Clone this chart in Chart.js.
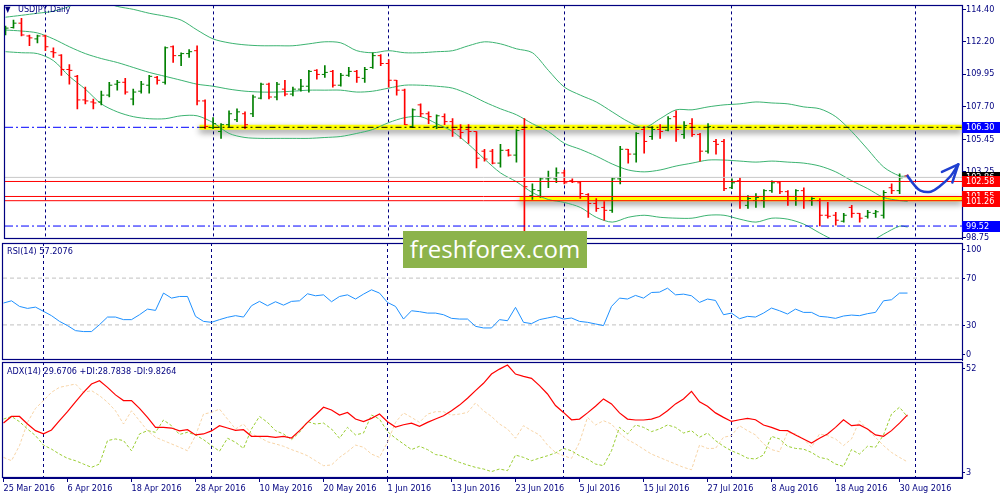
<!DOCTYPE html>
<html>
<head>
<meta charset="utf-8">
<title>USDJPY Daily</title>
<script src="https://cdn.jsdelivr.net/npm/chart.js@4.4.1/dist/chart.umd.min.js"></script>
<style>
  html, body { margin: 0; padding: 0; background: #fff; }
  #wrap { position: relative; width: 1000px; height: 500px; overflow: hidden; }
  #wrap canvas { position: absolute; left: 0; top: 0; }
  .cap { position: absolute; font: 9px/11px Tahoma, 'DejaVu Sans Condensed', 'Liberation Sans', Arial, sans-serif; color: #000080; white-space: nowrap; }
  #brand { position: absolute; left: 403px; top: 231px; width: 184px; height: 37px; background: #8cb34b; color: #fff;
           font: 24px/36px 'Open Sans', sans-serif; text-align: center; }
</style>
</head>
<body>
<div id="wrap">
  <canvas id="mainChart" width="1000" height="500"></canvas>
  <canvas id="rsiChart" width="1000" height="500"></canvas>
  <canvas id="adxChart" width="1000" height="500"></canvas>
  <div class="cap" style="left:5px;top:4px;font-size:8px">▼</div>
  <div class="cap" style="left:18px;top:4px">USDJPY,Daily</div>
  <div class="cap" style="left:7px;top:246px">RSI(14) 57.2076</div>
  <div class="cap" style="left:7px;top:366px">ADX(14) 29.6706 +DI:28.7838 -DI:9.8264</div>
  <div id="brand">freshforex.com</div>
</div>
<script>
// daily bars, 25 Mar 2016 .. 31 Aug 2016
const opens = [112.84,113.15,113.45,112.57,112.37,112.57,111.49,111.25,110.27,109.80,
  108.18,108.04,108.04,108.51,109.26,109.39,108.24,108.78,109.19,109.73,
  109.39,111.83,111.22,111.36,111.56,108.11,106.28,106.01,106.48,106.82,
  107.23,107.23,108.30,109.26,108.38,108.92,108.58,108.92,109.12,110.21,
  109.93,110.14,109.19,109.87,110.14,109.66,110.41,111.22,110.68,109.53,
  108.85,106.35,107.84,107.23,106.35,107.03,106.69,106.15,106.15,106.01,
  104.66,104.66,103.84,104.72,104.39,106.15,101.61,101.95,102.76,102.76,
  103.17,102.63,102.49,101.68,101.07,100.80,100.60,102.76,104.79,104.46,
  106.15,105.67,106.15,106.10,107.03,105.81,106.55,105.81,104.66,105.33,
  105.33,102.15,102.63,100.94,101.27,101.27,101.95,102.49,101.88,101.55,
  101.95,101.27,101.27,100.26,100.26,99.85,100.80,100.39,100.19,100.39,
  100.26,102.15,101.95,102.96];
const highs = [113.25,113.66,113.79,112.64,112.64,112.64,111.76,111.29,110.61,109.87,
  109.06,108.24,108.78,109.39,109.53,109.66,108.92,109.46,109.87,109.80,
  111.83,111.90,111.42,111.63,111.90,108.18,106.96,106.55,107.43,107.57,
  107.36,108.51,109.33,109.33,109.39,109.53,109.06,109.60,110.21,110.27,
  110.54,110.21,110.00,110.41,110.21,110.41,111.42,111.29,110.95,109.53,
  108.92,107.57,107.91,107.36,107.16,107.23,106.89,106.48,106.48,106.01,
  104.79,104.79,105.13,104.79,106.15,106.89,102.42,102.83,103.30,103.51,
  103.37,102.76,102.56,101.75,101.41,101.20,102.83,105.00,104.79,105.94,
  106.35,106.35,106.48,107.03,107.43,106.69,106.89,105.88,106.55,105.47,
  105.47,102.76,102.83,101.61,101.75,102.02,102.63,102.56,101.95,102.02,
  102.15,101.48,101.41,101.14,100.46,100.39,100.94,100.39,100.60,100.60,
  101.95,102.42,103.10,103.03];
const lows = [112.64,113.11,112.57,111.90,112.10,111.56,111.09,109.87,109.26,107.57,
  107.91,107.57,107.84,108.38,108.85,108.58,107.84,108.65,108.65,109.26,
  109.26,110.75,110.54,111.09,107.84,106.21,106.21,105.54,106.35,106.69,
  106.21,107.03,108.24,108.24,108.18,108.45,108.45,108.78,108.72,109.60,
  109.73,109.06,109.12,109.80,109.39,109.39,110.34,110.54,109.06,108.51,
  106.48,106.28,107.03,106.55,106.21,106.48,105.67,105.54,105.20,103.51,
  103.98,103.78,103.57,104.32,103.91,99.10,101.34,101.48,102.15,102.49,
  102.42,102.49,101.41,100.12,100.53,99.92,100.46,102.42,103.84,103.91,
  104.52,105.47,105.54,106.05,105.33,105.54,105.67,103.98,104.52,104.46,
  101.95,102.09,100.73,100.73,100.80,100.80,101.82,101.75,100.94,100.94,
  100.73,100.94,99.52,100.06,99.58,99.79,100.12,99.79,100.06,100.12,
  100.06,101.75,101.75,102.83];
const closes = [113.11,113.45,112.64,112.44,112.57,111.83,111.42,110.27,110.21,108.18,
  108.11,107.97,108.51,109.19,109.39,108.72,108.72,109.26,109.80,109.53,
  111.76,111.22,111.36,111.49,108.11,106.35,106.55,106.48,107.23,107.36,
  106.48,108.38,109.26,108.38,109.26,108.58,108.92,109.12,110.14,109.93,
  110.07,109.19,109.87,110.14,109.73,110.27,111.22,110.68,109.53,108.85,
  106.48,107.50,107.23,107.03,107.09,106.69,106.15,105.94,106.01,104.18,
  104.12,103.84,104.72,104.39,106.08,102.22,102.02,102.76,102.83,103.17,
  102.49,102.56,101.75,101.07,100.73,100.60,102.76,104.79,104.46,105.88,
  105.33,106.15,106.01,106.89,106.15,106.42,105.81,104.66,106.35,105.13,
  102.09,102.49,101.27,101.41,101.48,101.95,102.49,101.88,101.55,101.95,
  101.55,101.41,100.26,100.19,99.92,100.26,100.39,100.06,100.46,100.50,
  101.82,101.95,102.83,102.86];

// Bollinger bands (20, 2) read every second bar
const bbIdx = [0,2,4,6,8,10,12,14,16,18,20,22,24,26,28,30,32,34,36,38,40,42,44,46,48,50,52,54,56,
  58,60,62,64,66,68,70,72,74,76,78,80,82,84,86,88,90,92,94,96,98,100,102,104,106,108,110,112,113];
const bbUpper = [113.86,113.99,114.13,114.27,114.60,115.08,114.94,114.60,114.40,114.13,
  113.93,113.66,112.98,112.37,112.10,111.96,111.90,111.90,111.90,112.03,
  112.17,112.10,111.56,111.42,111.56,111.42,111.42,111.49,111.56,111.90,
  112.17,112.03,111.69,111.42,110.21,109.06,108.51,108.04,107.36,106.69,
  106.28,106.89,107.50,107.50,107.70,107.84,107.91,108.04,107.97,107.91,
  107.70,107.57,107.03,106.01,104.79,103.57,102.96,102.96];
const bbMiddle = [112.98,112.91,112.78,112.37,111.83,111.36,111.02,110.75,110.41,110.07,
  109.80,109.53,109.26,109.12,108.92,108.78,108.72,108.72,108.78,108.85,
  108.85,108.85,108.72,108.78,108.99,109.19,109.19,109.12,108.99,108.58,
  108.04,107.57,107.16,106.55,106.01,105.20,104.79,104.32,103.78,103.37,
  103.24,103.37,103.64,103.84,104.05,104.05,103.98,103.91,103.98,103.91,
  103.84,103.64,103.24,102.63,102.09,101.48,101.27,101.21];
const bbLower = [111.49,111.42,111.36,110.88,109.80,108.92,107.91,107.36,107.03,106.89,
  106.89,107.09,107.09,106.62,105.88,105.60,105.54,105.54,105.54,105.54,
  105.60,105.67,105.88,106.15,106.62,106.96,107.03,106.55,106.01,105.13,
  104.12,103.17,102.56,101.82,101.34,101.14,100.80,100.12,99.79,100.12,
  100.26,100.12,100.06,100.06,100.26,100.26,99.99,99.79,100.06,99.99,
  99.65,99.04,98.50,98.23,98.36,98.97,99.51,99.45];

// RSI(14)
const rsi = [48.7,50.6,45.8,44.1,45.2,41.6,37.9,33.0,29.4,25.1,
  24.3,24.3,30.2,36.7,36.7,34.5,34.5,38.7,43.5,42.4,
  57.2,52.9,54.3,54.3,37.3,33.0,32.2,34.5,36.5,37.9,
  36.7,46.4,50.1,46.4,49.8,46.9,50.1,50.6,56.6,54.9,
  55.7,49.8,54.3,55.7,52.1,56.3,60.0,57.2,49.2,45.8,
  35.0,42.1,41.3,40.1,40.1,38.7,35.6,35.0,35.0,28.8,
  27.4,27.4,34.5,33.6,45.0,32.2,31.1,34.5,35.9,37.3,
  35.0,35.9,33.0,32.2,30.8,29.4,45.8,52.9,52.1,55.2,
  52.9,57.7,58.0,61.4,55.7,56.3,54.9,49.2,52.1,50.9,
  38.7,40.1,35.3,37.3,36.7,40.1,44.4,42.1,39.3,43.5,
  40.7,40.7,37.3,36.7,35.6,37.6,38.4,37.9,39.6,40.7,
  50.6,51.5,57.2,57.2];

// ADX(14), +DI, -DI
const adx = [26.2,29.0,29.0,25.8,23.0,21.7,23.3,27.2,31.0,35.2,
  39.2,42.7,44.1,41.3,38.1,35.7,35.7,32.4,28.6,24.4,
  24.4,24.1,22.9,23.4,21.2,21.6,22.9,25.1,24.1,23.1,
  23.4,20.6,20.6,20.6,20.2,20.6,19.9,23.0,26.5,29.6,
  32.9,31.7,29.6,30.7,27.9,26.8,28.2,30.0,26.8,24.5,
  25.5,26.2,24.8,26.5,27.9,29.3,31.4,33.8,36.7,39.9,
  43.0,46.9,49.0,50.7,46.9,45.9,45.1,42.0,38.5,33.6,
  30.7,27.6,27.9,30.5,33.3,36.4,34.3,30.5,27.9,27.5,
  27.5,27.9,29.0,31.4,34.3,36.4,39.6,35.2,33.3,30.5,
  28.6,26.9,27.6,28.2,27.6,25.4,24.4,23.1,23.0,21.2,
  19.5,17.8,19.8,21.6,24.4,27.6,25.1,25.4,23.7,21.2,
  20.6,23.0,26.2,29.7];
const plusDI = [27.9,29.0,26.8,23.7,20.9,16.9,15.2,13.1,11.3,10.3,
  8.9,7.5,8.9,18.8,19.5,18.8,14.5,21.6,23.0,22.3,
  27.5,25.1,21.4,22.3,21.2,19.2,16.7,14.3,19.8,18.1,
  15.5,23.7,29.0,26.5,23.0,21.6,19.2,22.3,26.8,25.8,
  26.2,23.7,19.8,24.4,21.2,22.0,29.6,27.9,22.6,19.8,
  17.4,15.0,16.4,15.0,12.9,12.4,11.0,9.6,8.5,7.5,
  6.8,5.7,6.8,6.1,12.7,11.7,10.3,11.4,12.4,13.6,
  15.5,14.5,12.4,11.0,8.9,8.2,14.5,24.4,21.6,25.4,
  24.4,22.6,23.7,25.4,24.4,22.0,23.0,20.2,22.0,18.8,
  16.4,14.5,13.1,11.4,11.0,12.7,20.6,19.5,16.4,15.5,
  15.2,13.8,11.7,11.0,8.9,7.9,15.0,13.1,16.4,16.0,
  21.2,30.0,32.9,28.8];
const minusDI = [11.7,10.3,16.7,26.5,32.4,35.7,39.2,41.3,42.0,42.7,
  39.2,39.9,37.8,35.0,31.4,25.8,31.4,27.2,23.0,20.2,
  18.8,17.4,16.0,14.5,20.9,30.0,30.7,32.1,27.9,23.7,
  25.8,21.6,20.2,18.3,17.4,16.4,15.0,13.8,12.4,10.3,
  8.2,8.5,11.7,14.1,16.9,16.0,13.1,11.7,18.1,26.5,
  30.5,28.6,26.5,30.0,31.0,31.0,29.6,30.0,30.7,34.7,
  31.4,29.0,25.8,23.7,19.8,25.1,23.0,21.2,16.9,13.8,
  12.4,11.3,18.1,28.6,25.4,27.2,25.8,22.0,19.2,17.4,
  15.2,13.1,11.7,10.3,8.9,7.5,6.5,16.9,15.5,15.5,
  20.2,20.9,25.1,23.0,21.2,17.4,15.0,14.1,22.3,21.6,
  19.5,16.0,21.6,20.9,19.5,16.7,19.5,27.2,23.4,20.2,
  16.7,13.8,11.7,9.8];

// levels, tags, ticks
const levelPrices = [106.30, 102.86, 102.58, 101.55, 101.26, 99.52];
const zonePrices = [106.30, 101.40];
const zoneStart = [24.3, 64.4];
const tagPrices = [102.86, 101.55, 102.58, 101.26, 106.30, 99.52];
const priceTicks = [114.40, 112.20, 109.95, 107.70, 105.45, 103.25, 101.00, 98.75];
const rsiLevels = [30, 70];
const rsiTicks = [100, 70, 30, 0];
const adxTicks = [52, 3];
const monthStarts = [5, 26, 48, 70, 91, 114];
const tickIdx = [0, 8, 16, 24, 32, 40, 48, 56, 64, 72, 80, 88, 96, 104, 112];
const tickLabels = ['25 Mar 2016', '6 Apr 2016', '18 Apr 2016', '28 Apr 2016', '10 May 2016',
  '20 May 2016', '1 Jun 2016', '13 Jun 2016', '23 Jun 2016', '5 Jul 2016', '15 Jul 2016',
  '27 Jul 2016', '8 Aug 2016', '18 Aug 2016', '30 Aug 2016'];

// hand drawn forecast arrow
const arrowX = [113, 113.8, 114.6, 115.9, 117.1, 118.4, 119.35];
const arrowY = [102.96, 102.36, 101.95, 101.88, 102.29, 102.96, 103.76];
const headX = [117.3, 119.35, 118.6];
const headY = [103.24, 103.76, 102.51];

// styles
const NAVY = '#000080';
const FONT = "Tahoma, 'DejaVu Sans Condensed', 'Liberation Sans', Arial, sans-serif";
const UP = '#008000', DOWN = '#ff0000', BAND = '#3cb371', ARROW = '#1f3fd0';
const levelColors = ['#0000ff', '#c8c8c8', '#ff0000', '#ff0000', '#ff0000', '#0000ff'];
const levelDash = [[8, 3, 2, 3], [], [], [], [], [8, 3, 2, 3]];
const levelOrder = [9, 1, 1, 1, 1, 1];
const tagColors = ['#000000', '#ff0000', '#ff0000', '#ff0000', '#0000ff', '#0000ff'];
const X_MIN = -0.0625, X_MAX = 119.8125;

const pts = (xs, ys) => xs.map((x, k) => ({ x: x, y: ys[k] }));
const flat = (p, from) => [{ x: from, y: p }, { x: X_MAX, y: p }];
const barColors = closes.map((c, i) => (c >= opens[i] ? UP : DOWN));

// plugins
const monthLines = {
  id: 'monthLines',
  beforeDatasetsDraw(chart) {
    const { ctx, chartArea: a, scales: { x } } = chart;
    ctx.save();
    ctx.strokeStyle = NAVY;
    ctx.lineWidth = 1;
    ctx.setLineDash([3, 3]);
    monthStarts.forEach(m => {
      const px = Math.floor(x.getPixelForValue(m)) + 0.5;
      ctx.beginPath();
      ctx.moveTo(px, a.top);
      ctx.lineTo(px, a.bottom);
      ctx.stroke();
    });
    ctx.restore();
  }
};

const frame = {
  id: 'frame',
  afterDraw(chart) {
    const { ctx, chartArea: a } = chart;
    ctx.save();
    ctx.strokeStyle = NAVY;
    ctx.lineWidth = 1.2;
    ctx.strokeRect(Math.floor(a.left) - 0.5, Math.floor(a.top) + 0.5,
      Math.round(a.right - a.left) + 1, Math.round(a.bottom - a.top) - 1);
    ctx.restore();
  }
};

const shadow = {
  id: 'shadow',
  beforeDatasetDraw(chart, args) {
    if (!chart.data.datasets[args.index].shadow) return;
    const ctx = chart.ctx;
    ctx.save();
    ctx.shadowColor = 'rgba(0,0,0,0.45)';
    ctx.shadowBlur = 6;
    ctx.shadowOffsetY = 3;
  },
  afterDatasetDraw(chart, args) {
    if (chart.data.datasets[args.index].shadow) chart.ctx.restore();
  }
};

const priceTags = {
  id: 'priceTags',
  afterDraw(chart) {
    const { ctx, chartArea: a, scales: { y } } = chart;
    ctx.save();
    ctx.font = '9px ' + FONT;
    ctx.textBaseline = 'middle';
    tagPrices.forEach((p, k) => {
      const py = Math.round(y.getPixelForValue(p));
      ctx.fillStyle = tagColors[k];
      ctx.fillRect(a.right, py - 5, 38, 11);
      ctx.fillStyle = '#fff';
      ctx.fillText(p.toFixed(2), a.right + 4, py + 0.5);
    });
    ctx.restore();
  }
};

const sideLabels = {
  id: 'sideLabels',
  afterDraw(chart, args, opts) {
    const { ctx, chartArea: a, scales: { y } } = chart;
    ctx.save();
    ctx.font = '9px ' + FONT;
    ctx.fillStyle = NAVY;
    ctx.strokeStyle = NAVY;
    ctx.textBaseline = 'middle';
    (opts.values || []).forEach(v => {
      let py = y.getPixelForValue(v);
      if (v === y.max) py += 6;
      if (v === y.min) py -= 6;
      py = Math.round(py) + 0.5;
      ctx.beginPath();
      ctx.moveTo(a.right, py);
      ctx.lineTo(a.right + 3, py);
      ctx.stroke();
      ctx.fillText(String(v), a.right + 4, py);
    });
    ctx.restore();
  }
};

const base = {
  responsive: false,
  animation: false,
  events: [],
  plugins: { legend: { display: false }, tooltip: { enabled: false } }
};
const font = { family: FONT, size: 9 };
const xHidden = { type: 'linear', display: false, offset: false, grid: { offset: false }, min: X_MIN, max: X_MAX };
const sideAxis = (min, max) => ({
  position: 'right', min: min, max: max,
  ticks: { display: false }, grid: { display: false },
  border: { display: true, color: NAVY },
  afterFit: s => { s.width = 38; }
});

// price panel
new Chart(document.getElementById('mainChart'), {
  type: 'scatter',
  data: {
    datasets: [
      { type: 'line', data: pts(arrowX, arrowY), borderColor: ARROW, borderWidth: 2.5, tension: 0.4,
        pointRadius: 0, borderCapStyle: 'round', order: 0 },
      { type: 'line', data: pts(headX, headY), borderColor: ARROW, borderWidth: 2.5, tension: 0,
        pointRadius: 0, borderCapStyle: 'round', borderJoinStyle: 'round', order: 0 },
      ...levelPrices.map((p, k) => ({
        type: 'line', data: flat(p, X_MIN), borderColor: levelColors[k], borderDash: levelDash[k],
        borderWidth: 1, pointRadius: 0, order: levelOrder[k]
      })),
      { type: 'line', data: flat(zonePrices[0], zoneStart[0]), borderColor: '#000000',
        borderDash: [6, 3, 2, 3], borderWidth: 1, pointRadius: 0, order: 2 },
      { type: 'bar', data: highs.map((h, i) => ({ x: i, y: [lows[i], h] })),
        backgroundColor: barColors, barThickness: 1, borderWidth: 0, order: 3 },
      { type: 'scatter', data: opens.map((o, i) => ({ x: i - 0.19, y: o })), pointStyle: 'line',
        pointRadius: 1.5, pointBorderWidth: 1, pointBorderColor: barColors, order: 3 },
      { type: 'scatter', data: closes.map((c, i) => ({ x: i + 0.19, y: c })), pointStyle: 'line',
        pointRadius: 1.5, pointBorderWidth: 1, pointBorderColor: barColors, order: 3 },
      ...[bbUpper, bbMiddle, bbLower].map(b => ({
        type: 'line', data: pts(bbIdx, b), borderColor: BAND, borderWidth: 1,
        pointRadius: 0, tension: 0.3, order: 6
      })),
      ...zonePrices.map((p, k) => ({
        type: 'line', data: flat(p, zoneStart[k]), borderColor: '#ffff00', borderWidth: 5,
        pointRadius: 0, shadow: true, order: 7
      }))
    ]
  },
  options: Object.assign({}, base, {
    layout: { padding: { left: 3, top: 2, right: 0, bottom: 261 } },
    scales: {
      x: xHidden,
      y: {
        position: 'right', min: 98.63, max: 114.67, beginAtZero: false,
        afterBuildTicks: s => { s.ticks = priceTicks.map(v => ({ value: v })); },
        afterFit: s => { s.width = 38; },
        ticks: { callback: v => v.toFixed(2), color: NAVY, font: font, padding: 0 },
        grid: { drawOnChartArea: false, drawTicks: true, tickLength: 4, color: NAVY },
        border: { display: true, color: NAVY }
      }
    }
  }),
  plugins: [monthLines, shadow, frame, priceTags]
});

// RSI panel
new Chart(document.getElementById('rsiChart'), {
  type: 'scatter',
  data: {
    datasets: [
      { type: 'line', data: rsi.map((v, i) => ({ x: i, y: v })), borderColor: '#1e90ff',
        borderWidth: 1, pointRadius: 0, order: 0 },
      ...rsiLevels.map(v => ({
        type: 'line', data: flat(v, X_MIN), borderColor: '#c0c0c0', borderDash: [4, 3],
        borderWidth: 1, pointRadius: 0, order: 1
      }))
    ]
  },
  options: Object.assign({}, base, {
    layout: { padding: { left: 3, top: 243, right: 0, bottom: 140 } },
    plugins: Object.assign({}, base.plugins, { sideLabels: { values: rsiTicks } }),
    scales: { x: xHidden, y: sideAxis(0, 100) }
  }),
  plugins: [monthLines, frame, sideLabels]
});

// ADX panel
new Chart(document.getElementById('adxChart'), {
  type: 'scatter',
  data: {
    datasets: [
      { type: 'line', data: adx.map((v, i) => ({ x: i, y: v })), borderColor: '#ff0000',
        borderWidth: 1.2, pointRadius: 0, order: 0 },
      { type: 'line', data: plusDI.map((v, i) => ({ x: i, y: v })), borderColor: '#9acd32',
        borderDash: [3, 2], borderWidth: 1, pointRadius: 0, order: 1 },
      { type: 'line', data: minusDI.map((v, i) => ({ x: i, y: v })), borderColor: '#f7d4a6',
        borderDash: [3, 2], borderWidth: 1, pointRadius: 0, order: 2 }
    ]
  },
  options: Object.assign({}, base, {
    layout: { padding: { left: 3, top: 362, right: 0, bottom: 0 } },
    plugins: Object.assign({}, base.plugins, { sideLabels: { values: adxTicks } }),
    scales: {
      x: {
        type: 'linear', min: X_MIN, max: X_MAX, position: 'bottom', offset: false,
        afterBuildTicks: s => { s.ticks = tickIdx.map(v => ({ value: v })); },
        afterFit: s => { s.height = 22; },
        ticks: { callback: (v, k) => tickLabels[k], align: 'start', maxRotation: 0, minRotation: 0,
                 autoSkip: false, color: NAVY, font: font, padding: 1 },
        grid: { drawOnChartArea: false, drawTicks: true, tickLength: 4, color: NAVY },
        border: { display: true, color: NAVY }
      },
      y: sideAxis(3, 52)
    }
  }),
  plugins: [monthLines, frame, sideLabels]
});
</script>
</body>
</html>
